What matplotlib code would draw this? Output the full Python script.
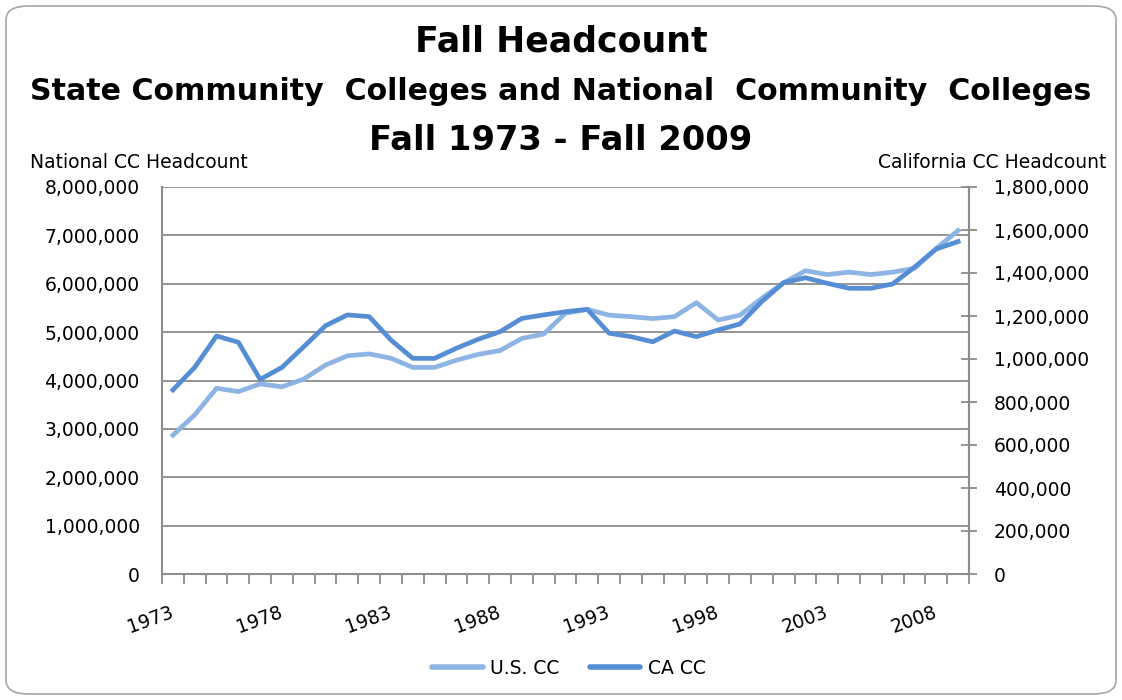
import matplotlib
matplotlib.use("Agg")
import matplotlib.pyplot as plt
from matplotlib.patches import FancyBboxPatch
from matplotlib.lines import Line2D
from matplotlib.ticker import FuncFormatter, FixedLocator

years = list(range(1973, 2010))
us_cc = [2.87, 3.29, 3.84, 3.77, 3.93, 3.87, 4.03, 4.32, 4.51, 4.55, 4.46, 4.27,
         4.27, 4.42, 4.54, 4.62, 4.87, 4.96, 5.39, 5.47, 5.35, 5.32, 5.28, 5.32,
         5.61, 5.25, 5.35, 5.70, 6.02, 6.27, 6.19, 6.24, 6.19, 6.24, 6.32, 6.73, 7.10]
us_cc = [v * 1e6 for v in us_cc]
ca_cc = [0.856, 0.961, 1.107, 1.078, 0.905, 0.961, 1.057, 1.155, 1.205, 1.197, 1.088, 1.003,
         1.003, 1.050, 1.092, 1.127, 1.189, 1.205, 1.220, 1.231, 1.120, 1.104, 1.080, 1.130,
         1.104, 1.135, 1.163, 1.267, 1.355, 1.378, 1.352, 1.329, 1.329, 1.349, 1.427, 1.512, 1.546]
ca_cc = [v * 1e6 for v in ca_cc]
label_years = [1973, 1978, 1983, 1988, 1993, 1998, 2003, 2008]

light = "#8EB4E3"
dark = "#558ED5"
grey = "#8C8C8C"
plt.rcParams['font.family'] = ['DejaVu Sans']

fig = plt.figure(figsize=(11.22, 7.0), dpi=100)
border = FancyBboxPatch((6 / 1122, 6 / 700), 1110 / 1122, 688 / 700,
                        boxstyle="round,pad=0,rounding_size=0.02",
                        transform=fig.transFigure, facecolor="none",
                        edgecolor="#A6A6A6", linewidth=1.2, zorder=10)
fig.patches.append(border)

ax = fig.add_axes([162 / 1122, 1 - 574 / 700, (969 - 162) / 1122, (574 - 187) / 700])
ax.set_facecolor("none")
x = list(range(len(years)))
ax.plot(x, us_cc, color=light, lw=3.4, solid_joinstyle="round", zorder=3)
ax.set_ylim(0, 8e6)
ax.set_xlim(-0.5, len(years) - 0.5)
ax.yaxis.set_major_locator(FixedLocator([i * 1e6 for i in range(9)]))
ax.yaxis.set_major_formatter(FuncFormatter(lambda v, p: f"{int(v):,}"))
ax.grid(axis="y", color=grey, lw=1.3)
ax.set_axisbelow(True)
ax.tick_params(axis="y", length=0, pad=16, labelsize=13.5, colors="black")
ax.set_xticks([years.index(y) for y in label_years])
ax.set_xticklabels([str(y) for y in label_years])
ax.set_xticks([i - 0.5 for i in range(len(years) + 1)], minor=True)
ax.tick_params(axis="x", which="major", length=0, labelsize=13.5, pad=27)
ax.tick_params(axis="x", which="minor", length=7, width=1.3, color=grey, direction="out")
for lab in ax.get_xticklabels():
    lab.set_rotation(20)
    lab.set_ha("right")
    lab.set_va("center")
    lab.set_rotation_mode("anchor")
ax.spines["top"].set_visible(False)
for s in ["left", "bottom", "right"]:
    ax.spines[s].set_color(grey)
    ax.spines[s].set_linewidth(1.5)

ax2 = ax.twinx()
ax2.plot(x, ca_cc, color=dark, lw=3.4, solid_joinstyle="round", zorder=4)
ax2.set_ylim(0, 1.8e6)
ax2.yaxis.set_major_locator(FixedLocator([i * 2e5 for i in range(10)]))
ax2.yaxis.set_major_formatter(FuncFormatter(lambda v, p: f"{int(v):,}"))
ax2.tick_params(axis="y", direction="inout", length=12, width=1.3, color=grey, pad=12,
                labelsize=13.5)
for s in ["top", "left", "bottom"]:
    ax2.spines[s].set_visible(False)
ax2.spines["right"].set_color(grey)
ax2.spines["right"].set_linewidth(1.5)

fig.text(0.5, 1 - 42 / 700, "Fall Headcount", ha="center", va="center",
         fontsize=25, fontweight="bold")
fig.text(0.5, 1 - 92 / 700, "State Community  Colleges and National  Community  Colleges",
         ha="center", va="center", fontsize=21.6, fontweight="bold")
fig.text(0.5, 1 - 140 / 700, "Fall 1973 - Fall 2009", ha="center", va="center",
         fontsize=24.3, fontweight="bold")
fig.text(30 / 1122, 1 - 163 / 700, "National CC Headcount", ha="left", va="center",
         fontsize=13.5)
fig.text(1106 / 1122, 1 - 163 / 700, "California CC Headcount", ha="right", va="center",
         fontsize=13.5)

handles = [Line2D([], [], color=light, lw=4, solid_capstyle="round"),
           Line2D([], [], color=dark, lw=4, solid_capstyle="round")]
fig.legend(handles, ["U.S. CC", "CA CC"], loc="center", bbox_to_anchor=(0.507, 1 - 668 / 700),
           ncol=2, frameon=False, fontsize=13.5, handlelength=2.7, columnspacing=1.6,
           handletextpad=0.4)

fig.savefig("out.png", dpi=100)
